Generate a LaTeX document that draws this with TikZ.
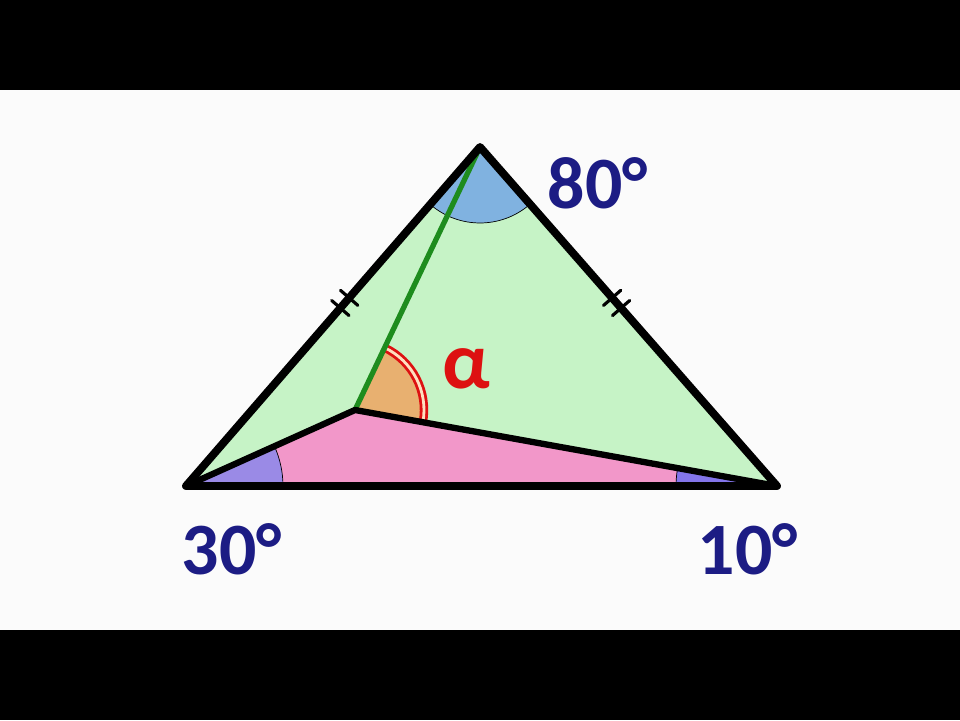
\documentclass[tikz,border=0pt]{standalone}
\usepackage{fontspec}
\setmainfont{Carlito}
\usetikzlibrary{calc,angles}
\definecolor{areagreen}{HTML}{C6F3C6}
\definecolor{areapink}{HTML}{F297C9}
\definecolor{anglepurple}{HTML}{9A8AE6}
\definecolor{angleblue}{HTML}{80B2E0}
\definecolor{angleorange}{HTML}{E8B070}
\definecolor{cevgreen}{HTML}{1E8C1E}
\definecolor{degnavy}{HTML}{1C1C84}
\definecolor{alphared}{HTML}{DD1111}
\tikzset{
  deg/.style={text=degnavy, font=\fontsize{42}{42}\selectfont\bfseries},
  side/.style={line width=4.5pt, line join=round, line cap=round},
  tick/.style={line width=1.8pt, line cap=round}
}

\begin{document}
\begin{tikzpicture}[x=0.02cm, y=-0.02cm]
	\fill [black] (0, 0) rectangle (960, 90);
	\fill [white!97!gray] (0, 90) rectangle (960, 630);
	\fill [black] (0, 630) rectangle (960, 720);
	\useasboundingbox (0, 0) rectangle (960, 720);
	\coordinate (A) at (186, 486);
	\coordinate (B) at (777, 486);
	\coordinate (C) at (480, 147);
	\coordinate (M) at (355, 410);
	\fill [areagreen] (A) -- (C) -- (B) -- cycle;
	\fill [areapink] (A) -- (M) -- (B) -- cycle;
	\pic [draw, thin, fill=anglepurple, angle radius=1.94cm] {angle = B--A--M};
	\pic [draw, thin, fill=anglepurple!85!blue, angle radius=2.02cm] {angle = M--B--A};
	\pic [draw, thin, fill=angleblue, angle radius=1.52cm] {angle = A--C--B};
	\pic [fill=angleorange, angle radius=1.34cm] {angle = B--M--C};
	\pic [draw=alphared, line width=1.6pt, double=white!75!orange, double distance=1.6pt,
	      angle radius=1.38cm] {angle = B--M--C};
	\draw [cevgreen, line width=3pt] (M) -- (C);
	\draw [side, line width=3.6pt] (A) -- (M) -- (B);
	\draw [side] (A) -- (C) -- (B) -- cycle;
	\foreach \t in {0.525, 0.555} {
		\draw [tick] ($(A)!\t!(C)!0.23cm!90:(C)$) -- ($(A)!\t!(C)!0.23cm!-90:(C)$);
		\draw [tick] ($(B)!\t!(C)!0.23cm!90:(C)$) -- ($(B)!\t!(C)!0.23cm!-90:(C)$);
	}
	\node [deg] (deg80) at (598, 183) {80°};
	\node [deg] (deg30) at (232, 549) {30°};
	\node [deg] (deg10) at (748, 549) {10°};
	\node [text=alphared, font=\fontsize{46}{46}\selectfont\bfseries] (alpha) at (466, 369) {α};
\end{tikzpicture}
\end{document}
